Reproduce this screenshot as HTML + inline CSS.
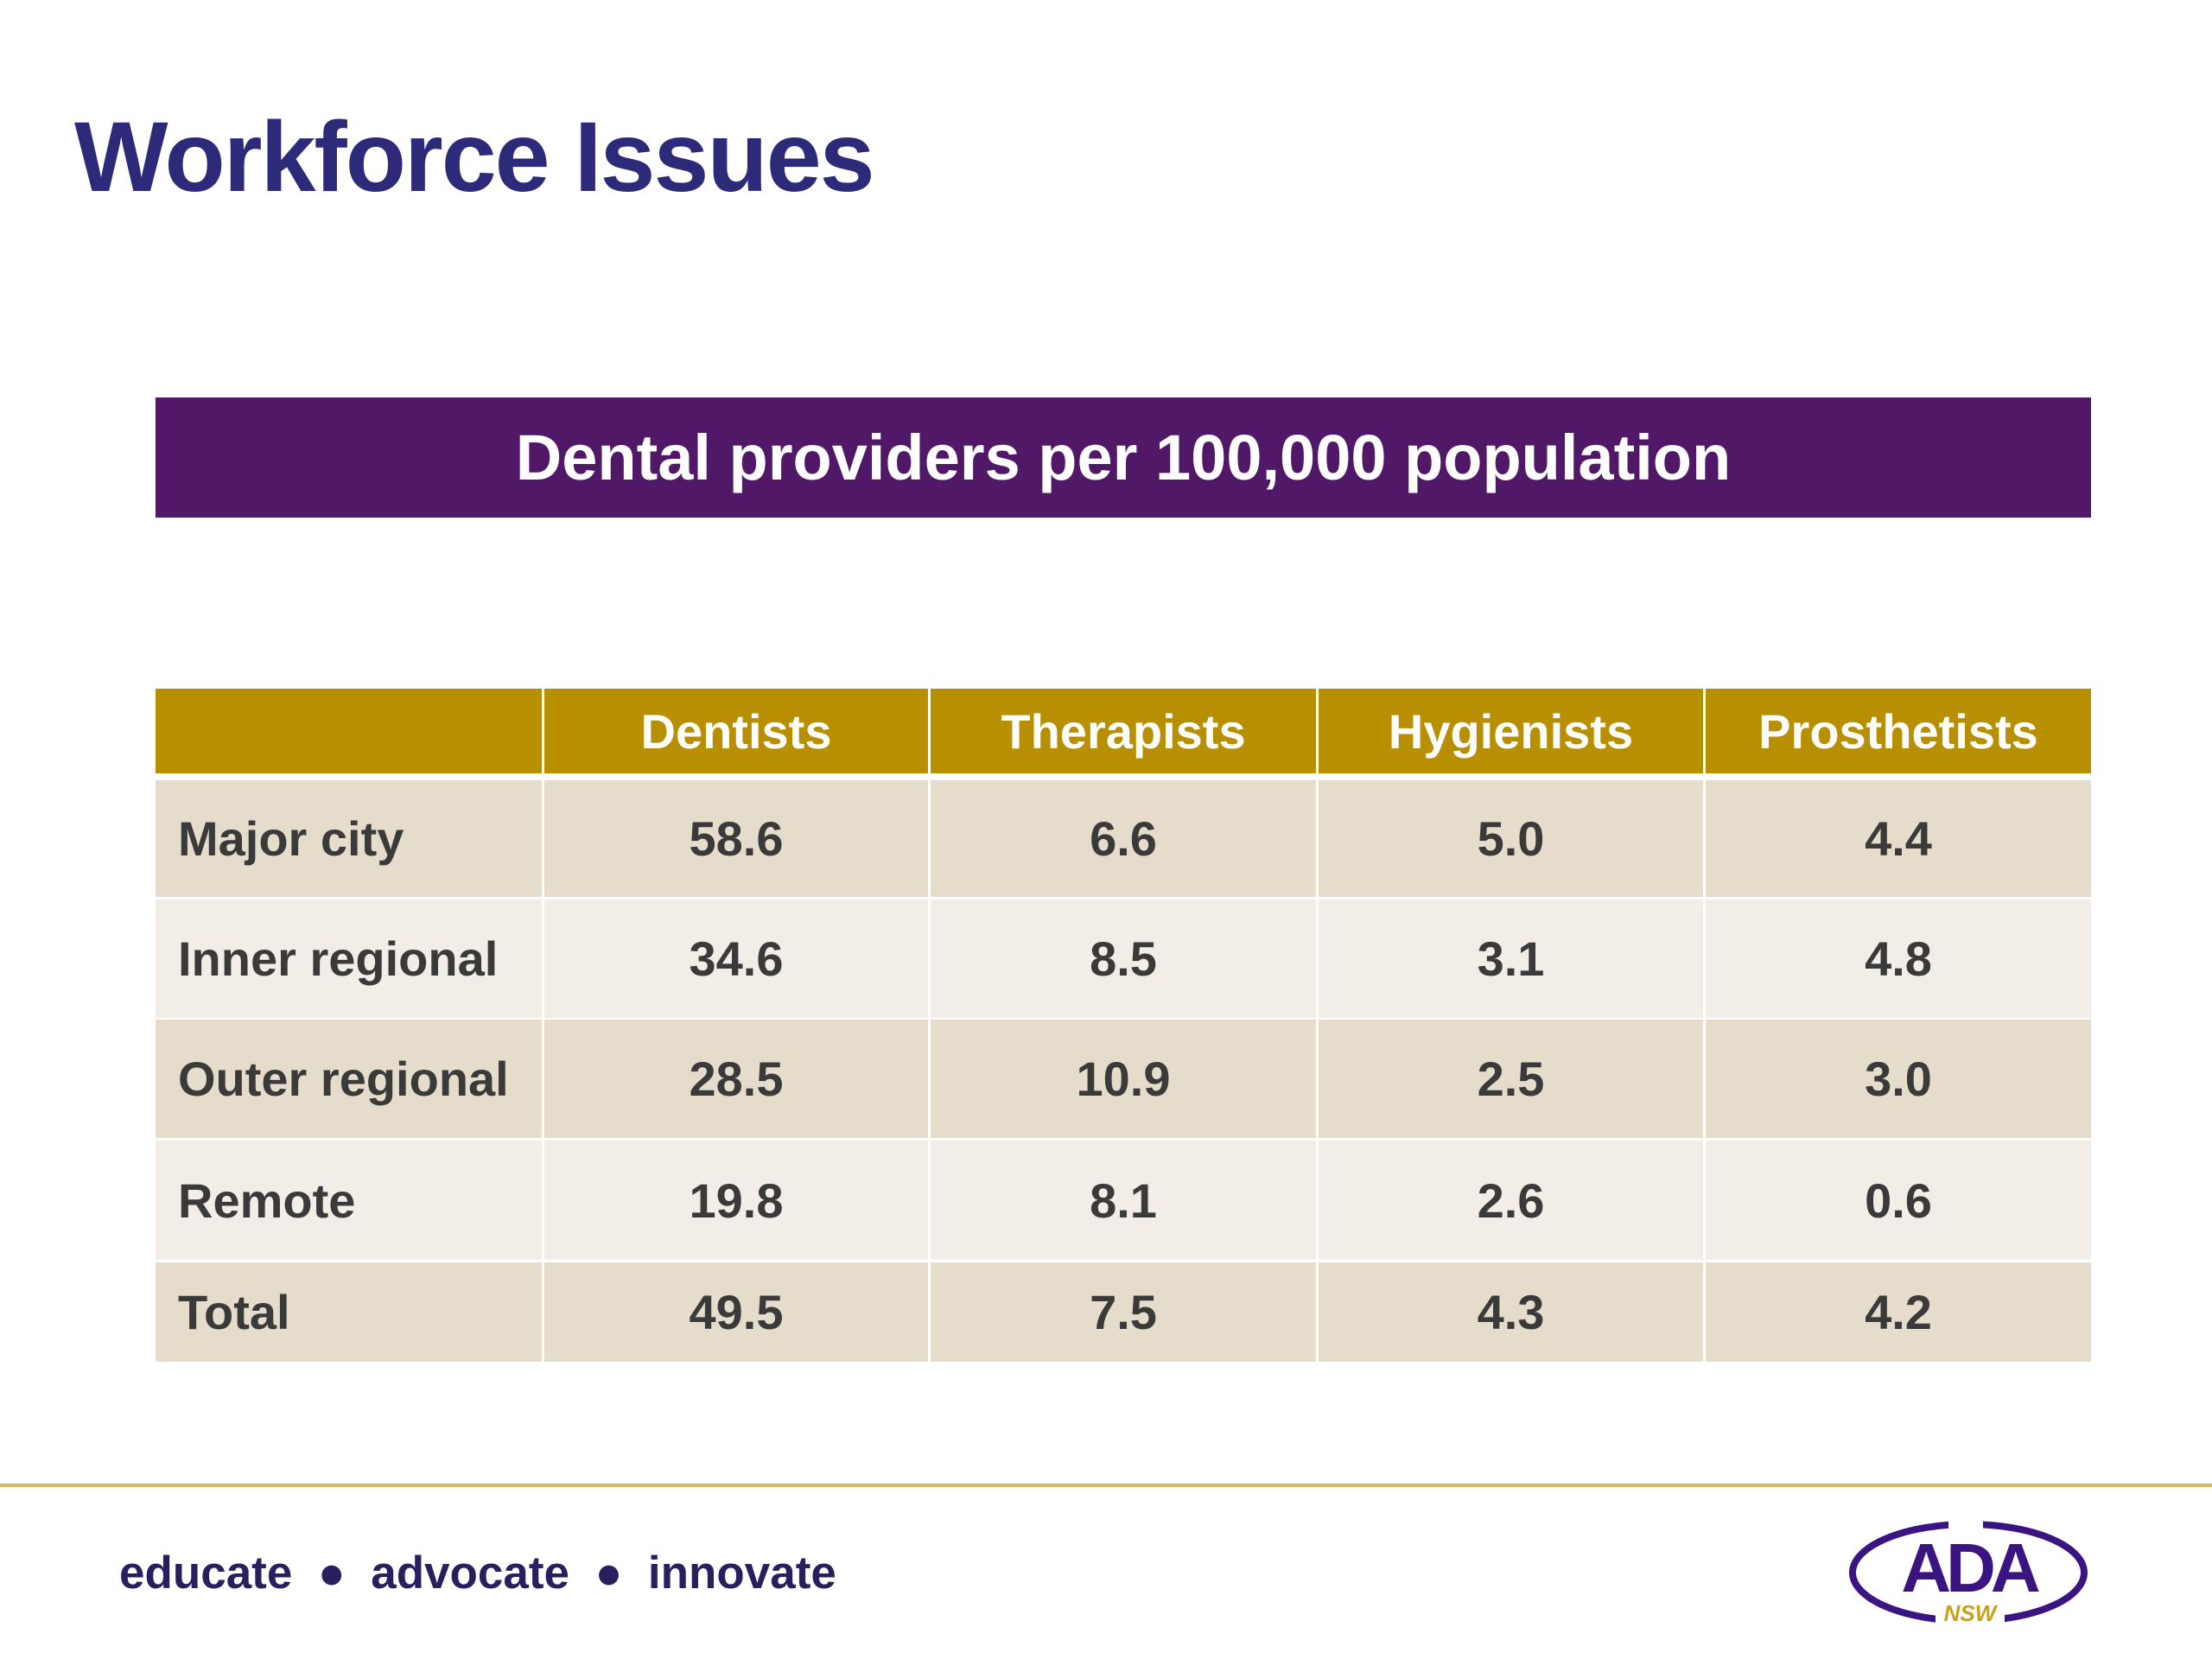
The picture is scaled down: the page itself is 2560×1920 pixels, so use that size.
<!DOCTYPE html>
<html><head><meta charset="utf-8"><style>
body{margin:0;width:2560px;height:1920px;background:#fff;position:relative;overflow:hidden;font-family:"Liberation Sans",sans-serif}
.a{position:absolute}
.c{position:absolute;display:flex;align-items:center;justify-content:center;font-weight:bold;font-size:56px;color:#3a3a3a}
.h{background:#b88f00;color:#fff}
.l{justify-content:flex-start;padding-left:26px;box-sizing:border-box}
</style></head><body>
<div class="a" style="left:86px;top:116px;font-size:115px;font-weight:bold;color:#2e2a7a;letter-spacing:-2px">Workforce Issues</div>
<div class="a" style="left:180px;top:460px;width:2240px;height:139px;background:#521868;color:#fff;font-weight:bold;font-size:74px;display:flex;align-items:center;justify-content:center">Dental providers per 100,000 population</div>
<div id="tbl"></div>
<div class="a" style="left:0;top:1717px;width:2560px;height:4px;background:#d6b860"></div>
<div class="a" style="left:138px;top:1790px;font-size:53px;font-weight:bold;color:#2a1f5e;white-space:pre">educate  ●  advocate  ●  innovate</div>
<svg class="a" style="left:2130px;top:1750px" width="300" height="140" viewBox="0 0 300 140">
<ellipse cx="148" cy="70" rx="134" ry="56" fill="none" stroke="#3a1480" stroke-width="8"/>
<rect x="125" y="5" width="40" height="20" fill="#fff"/>
<rect x="110" y="110" width="80" height="25" fill="#fff"/>
<text x="148" y="92" text-anchor="middle" font-family="Liberation Sans" font-weight="bold" font-size="80" fill="#3a1480" letter-spacing="-6">ADA</text>
<text x="150" y="126" text-anchor="middle" font-family="Liberation Sans" font-weight="bold" font-style="italic" font-size="26" fill="#c9a21a">NSW</text>
</svg>
<script>
const columns=["Dentists","Therapists","Hygienists","Prosthetists"];
const rows=["Major city","Inner regional","Outer regional","Remote","Total"];
const dentists=["58.6","34.6","28.5","19.8","49.5"];
const therapists=["6.6","8.5","10.9","8.1","7.5"];
const hygienists=["5.0","3.1","2.5","2.6","4.3"];
const prosthetists=["4.4","4.8","3.0","0.6","4.2"];
const series=[dentists,therapists,hygienists,prosthetists];
const xs=[180,627,1074,1523,1971,2420];
const ys=[[797,895],[903,1038],[1041,1178],[1180,1317],[1320,1458],[1461,1576]];
const t=document.getElementById('tbl');
function cell(x0,x1,y0,y1,txt,cls,bg){
 const d=document.createElement('div');
 d.className='c '+cls;
 d.style.left=(x0+(x0>180?3:0))+'px';d.style.top=y0+'px';
 d.style.width=(x1-x0-(x0>180?3:0))+'px';d.style.height=(y1-y0)+'px';
 if(bg)d.style.background=bg;
 d.textContent=txt;
 t.appendChild(d);return d;
}
for(let c=0;c<5;c++){
 const e=cell(xs[c],xs[c+1],ys[0][0],ys[0][1],c?columns[c-1]:'','h');
 
 
}
for(let r=0;r<rows.length;r++){
 const bg=r%2?'#f2ede6':'#e6dccb';
 const e=cell(xs[0],xs[1],ys[r+1][0],ys[r+1][1],rows[r],'l',bg);
 
 
 for(let c=0;c<4;c++){
  const v=cell(xs[c+1],xs[c+2],ys[r+1][0],ys[r+1][1],series[c][r],'',bg);
  
  
 }
}
</script>
</body></html>
